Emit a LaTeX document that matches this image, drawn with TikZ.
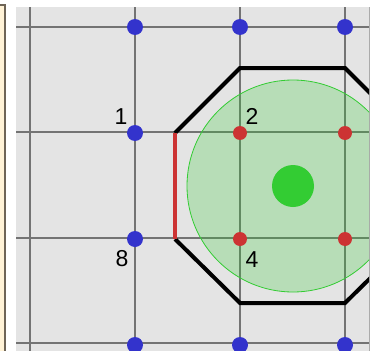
\documentclass[tikz,border=0pt]{standalone}
\usepackage{fontspec}
\setmainfont{Liberation Sans}
\definecolor{panelgrey}{HTML}{E4E4E4}
\definecolor{gridgrey}{HTML}{737373}
\definecolor{creamside}{HTML}{FFF2D6}
\definecolor{creamline}{HTML}{6E6456}
\definecolor{dotblue}{HTML}{3333CC}
\definecolor{dotred}{HTML}{CC3333}
\definecolor{dotgreen}{HTML}{33CC33}
\tikzset{
  bluedot/.style={circle, fill=dotblue, inner sep=0pt, minimum size=16pt},
  reddot/.style={circle, fill=dotred, inner sep=0pt, minimum size=14pt},
  numlbl/.style={inner sep=0pt, font=\fontsize{23}{23}\selectfont},
}
\begin{document}
\begin{tikzpicture}[x=1pt, y=-1pt]
      \useasboundingbox (0,0) rectangle (378,351);
      \def\gs{105.3}
      % side strip
      \draw[fill=creamside, draw=creamline, line width=2pt]
            (-3,5) rectangle (5,355);
      % panel
      \fill[panelgrey] (16,7) rectangle (369,351);
      \draw[gridgrey!60, line width=0.8pt] (369,7) -- (369,351);
      \begin{scope}
      \clip (16,7) rectangle (369,351);
      % grid
      \foreach \i in {0,...,3} {
        \draw[gridgrey, line width=2pt] (29.5+\i*\gs,7) -- (29.5+\i*\gs,351);
        \draw[gridgrey, line width=2pt] (16,27+\i*\gs) -- (369,27+\i*\gs);
      }
      % range
      \coordinate (ctr) at (293,186);
      \fill[dotgreen, fill opacity=0.25] (ctr) circle (106);
      \draw[dotgreen, line width=0.8pt] (ctr) circle (106);
      % octagon
      \coordinate (o1) at (175,133);
      \coordinate (o2) at (240,68);
      \coordinate (o3) at (345,68);
      \coordinate (o4) at (410,133);
      \coordinate (o5) at (410,239);
      \coordinate (o6) at (345,303);
      \coordinate (o7) at (240,303);
      \coordinate (o8) at (175,239);
      \draw[black, line width=4pt, line join=miter]
            (o8) -- (o7) -- (o6) -- (o5) -- (o4) -- (o3) -- (o2) -- (o1);
      \draw[dotred, line width=4pt] (o1) -- (o8);
      \end{scope}
      % centre
      \node[circle, fill=dotgreen, inner sep=0pt, minimum size=42pt] (c) at (ctr) {};
      % red dots
      \node[reddot] (r2) at (240,133) {};
      \node[reddot] (r3) at (345,133) {};
      \node[reddot] (r4) at (240,239) {};
      \node[reddot] (r5) at (345,239) {};
      % blue dots
      \node[bluedot] (b1) at (135,133) {};
      \node[bluedot] (b8) at (135,239) {};
      \node[bluedot] (bt1) at (135,27) {};
      \node[bluedot] (bt2) at (240,27) {};
      \node[bluedot] (bt3) at (345,27) {};
      \node[bluedot] (bb1) at (135,345) {};
      \node[bluedot] (bb2) at (240,345) {};
      \node[bluedot] (bb3) at (345,345) {};
      % numbers
      \node[numlbl] (n1) at (121,117) {1};
      \node[numlbl] (n2) at (252,116) {2};
      \node[numlbl] (n8) at (122,259) {8};
      \node[numlbl] (n4) at (252,260) {4};
\end{tikzpicture}
\end{document}
